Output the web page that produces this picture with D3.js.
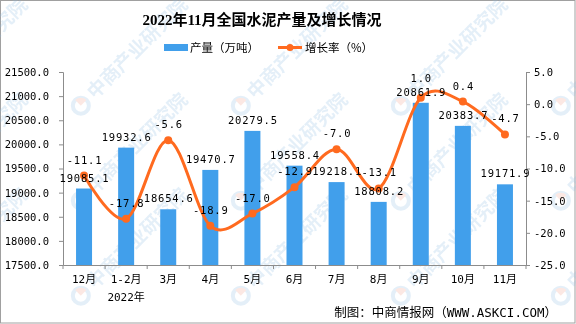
<!DOCTYPE html>
<html>
<head>
<meta charset="utf-8">
<script src="https://cdn.jsdelivr.net/npm/d3@7"></script>
<style>
  body { margin: 0; background: #fff; }
  svg { display: block; }
  .mono { font-family: "DejaVu Sans Mono", "Noto Sans CJK SC", monospace; }
</style>
</head>
<body>
<div id="chart"></div>
<script>
// cement output by month, with year-on-year growth
const months = ["12月", "1-2月", "3月", "4月", "5月", "6月", "7月", "8月", "9月", "10月", "11月"];
const output = [19085.1, 19932.6, 18654.6, 19470.7, 20279.5, 19558.4, 19218.1, 18808.2, 20861.9, 20383.7, 19171.9];
const growth = [-11.1, -17.8, -5.6, -18.9, -17.0, -12.9, -7.0, -13.1, 1.0, 0.4, -4.7];
const leftTicks = [17500, 18000, 18500, 19000, 19500, 20000, 20500, 21000, 21500];
const rightTicks = [-25, -20, -15, -10, -5, 0, 5];

const W = 576, H = 324;
const barColor = "#419FEB";
const lineColor = "#FF6A1F";
const axisColor = "#8c8c8c";

const svg = d3.select("#chart").append("svg")
    .attr("width", W)
    .attr("height", H);

svg.append("rect")
    .attr("x", 0.5).attr("y", 0.5)
    .attr("width", W - 1.5).attr("height", H - 1.5)
    .attr("fill", "#fff")
    .attr("stroke", "#a0a0a0");

const x = d3.scaleBand().domain(months).range([63, 526]);
const yL = d3.scaleLinear().domain([17500, 21500]).range([265, 72]);
const yR = d3.scaleLinear().domain([-25, 5]).range([265, 72]);
const fmt = d => d.toFixed(1);
const mid = i => x(months[i]) + x.bandwidth() / 2;

// faint watermark tiles, underneath everything
const wmX = [-65, 95, 255, 415, 575];
const wmY = [100, 195, 290];
const wm = svg.append("g").attr("opacity", 0.24).style("pointer-events", "none");
wmY.forEach(wy => wmX.forEach(wx => {
    const g = wm.append("g").attr("transform", `translate(${wx},${wy}) rotate(-45)`);
    g.append("circle").attr("cx", -14).attr("cy", -6).attr("r", 8)
        .attr("fill", "none").attr("stroke", "#8fbde3").attr("stroke-width", 4);
    g.append("path").attr("d", "M-14,-14 A8,8 0 0,1 -6,-6 L-14,-6 Z").attr("fill", "#f2a08a");
    g.append("text")
        .attr("x", 0).attr("y", 0)
        .style("font-family", "'Noto Sans CJK SC', sans-serif")
        .style("font-weight", "bold")
        .style("font-size", "19px")
        .attr("fill", "#8fbde3")
        .text("中商产业研究院");
}));

// title
svg.append("text")
    .attr("x", 262).attr("y", 25)
    .attr("text-anchor", "middle")
    .style("font-family", "'Liberation Serif', 'Noto Sans CJK SC', serif")
    .style("font-weight", "bold")
    .style("font-size", "15px")
    .text("2022年11月全国水泥产量及增长情况");

// legend
const lg = svg.append("g").style("font-family", "'Noto Sans CJK SC', sans-serif").style("font-size", "11.5px");
lg.append("rect").attr("x", 164).attr("y", 44).attr("width", 24).attr("height", 7).attr("fill", barColor);
lg.append("text").attr("x", 190).attr("y", 52).text("产量（万吨）");
lg.append("line").attr("x1", 278).attr("x2", 302).attr("y1", 47.5).attr("y2", 47.5)
    .attr("stroke", lineColor).attr("stroke-width", 3);
lg.append("circle").attr("cx", 290).attr("cy", 47.5).attr("r", 3.5).attr("fill", lineColor);
lg.append("text").attr("x", 305).attr("y", 52).text("增长率（%）");

// bars
const bw = 16;
svg.append("g").selectAll("rect")
    .data(output)
    .join("rect")
    .attr("x", (d, i) => mid(i) - bw / 2)
    .attr("y", d => yL(d))
    .attr("width", bw)
    .attr("height", d => yL(17500) - yL(d))
    .attr("fill", barColor);

// axes
const axL = svg.append("g")
    .attr("transform", "translate(63,0)")
    .call(d3.axisLeft(yL).tickValues(leftTicks).tickFormat(fmt).tickSize(4).tickPadding(10));
const axR = svg.append("g")
    .attr("transform", "translate(526,0)")
    .call(d3.axisRight(yR).tickValues(rightTicks).tickFormat(fmt).tickSize(4).tickPadding(4));
[axL, axR].forEach(ax => {
    ax.select(".domain").attr("stroke", axisColor);
    ax.selectAll(".tick line").attr("stroke", axisColor);
    ax.selectAll("text")
        .attr("class", "mono")
        .style("font-size", "10.5px")
        .attr("fill", "#000");
});

const axB = svg.append("g")
    .attr("transform", "translate(0,265)")
    .call(d3.axisBottom(x).tickSize(0).tickPadding(10).tickSizeOuter(0));
axB.select(".domain").attr("stroke", axisColor);
axB.selectAll("text")
    .attr("class", "mono")
    .style("font-size", "11px")
    .attr("fill", "#000");
// tick marks sit on the band boundaries
axB.selectAll(".bound")
    .data(d3.range(months.length + 1))
    .join("line")
    .attr("x1", i => x(months[0]) + i * x.step())
    .attr("x2", i => x(months[0]) + i * x.step())
    .attr("y1", 0).attr("y2", 4)
    .attr("stroke", axisColor);
svg.append("text")
    .attr("class", "mono")
    .attr("x", mid(1))
    .attr("y", 301)
    .attr("text-anchor", "middle")
    .style("font-size", "11px")
    .text("2022年");

// growth line
const pts = growth.map((d, i) => [mid(i), yR(d)]);
svg.append("path")
    .attr("d", d3.line().curve(d3.curveCardinal.tension(0))(pts))
    .attr("fill", "none")
    .attr("stroke", lineColor)
    .attr("stroke-width", 3);
svg.append("g").selectAll("circle")
    .data(pts)
    .join("circle")
    .attr("cx", d => d[0]).attr("cy", d => d[1])
    .attr("r", 4)
    .attr("fill", lineColor);

// value labels; a growth label that would sit on its bar label gets lifted
const barLabelY = output.map(d => yL(d) - 7);
const growthLabelY = growth.map((d, i) => {
    const y = yR(d) - 12;
    const b = barLabelY[i];
    return (y > b - 14 && y < b + 10) ? b - 14 : y;
});
svg.append("g").selectAll("text")
    .data(output)
    .join("text")
    .attr("class", "mono")
    .attr("x", (d, i) => mid(i) + 0.5)
    .attr("y", (d, i) => barLabelY[i])
    .attr("text-anchor", "middle")
    .style("font-size", "10.5px")
    .style("letter-spacing", "0.8px")
    .text(fmt);
svg.append("g").selectAll("text")
    .data(growth)
    .join("text")
    .attr("class", "mono")
    .attr("x", (d, i) => mid(i) + 0.5)
    .attr("y", (d, i) => growthLabelY[i])
    .attr("text-anchor", "middle")
    .style("font-size", "10.5px")
    .style("letter-spacing", "0.8px")
    .text(fmt);

// source note
svg.append("text")
    .attr("class", "mono")
    .attr("x", 557).attr("y", 317)
    .attr("text-anchor", "end")
    .style("font-size", "12.5px")
    .text("制图：中商情报网（WWW.ASKCI.COM）");
</script>
</body>
</html>
